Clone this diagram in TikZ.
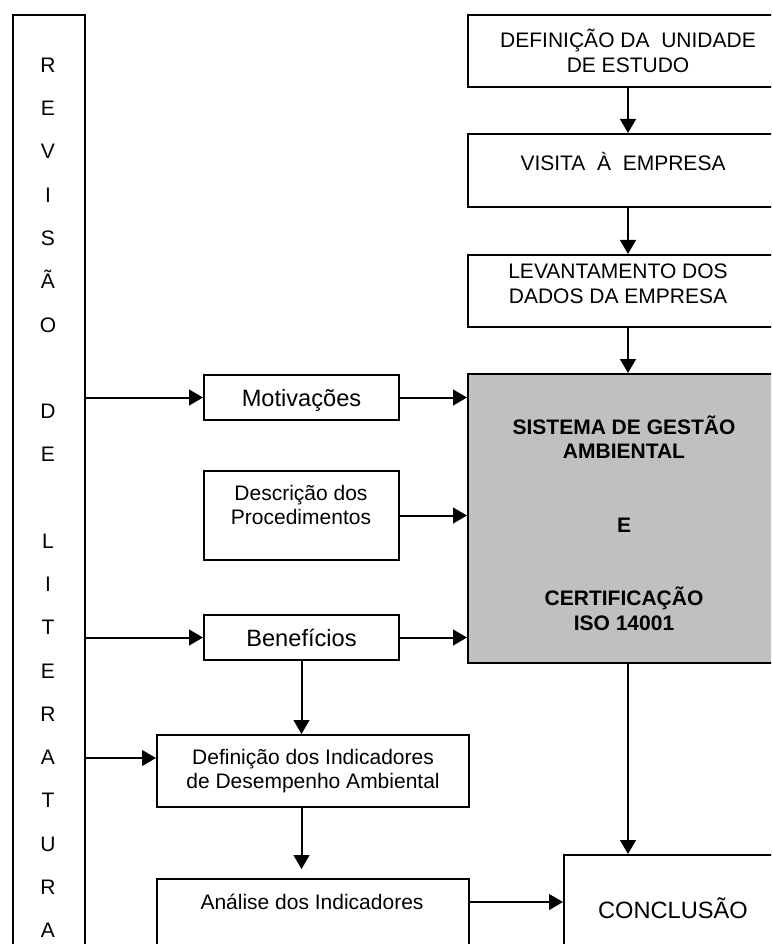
\documentclass[tikz,border=0pt]{standalone}
\usepackage{fontspec}
\setmainfont{Liberation Sans}
\usepackage{tikz}
\usetikzlibrary{arrows.meta,positioning,calc}
\definecolor{sgagray}{RGB}{192,192,192}
\newcommand{\pxl}{0.5714pt}

\begin{document}
\begin{tikzpicture}[
    x=\pxl, y=-\pxl,
    box/.style={rectangle, draw, line width=1.15pt, anchor=north west, inner sep=0pt, align=center, font=\fontsize{12}{14}\selectfont},
    txt/.style={align=center, inner sep=0pt, font=\fontsize{12}{14}\selectfont},
    big/.style={font=\fontsize{13.5}{16}\selectfont, text depth=0pt},
    letter/.style={anchor=base, inner sep=0pt, font=\fontsize{12}{14}\selectfont},
    arrow/.style={-{Triangle[length=8pt, width=9pt]}, line width=1.15pt}
]
\clip (0,0) rectangle (771,944);
\node[box, minimum width=72*\pxl, minimum height=960*\pxl] (lit) at (12,14) {};
\foreach \i/\ch in {0/R,1/E,2/V,3/I,4/S,5/Ã,6/O,8/D,9/E,11/L,12/I,13/T,14/E,15/R,16/A,17/T,18/U,19/R,20/A}
    \node[letter] (lt\i) at (48,{72.5+43.25*\i}) {\ch};

\node[box, minimum width=320*\pxl, minimum height=72*\pxl] (def) at (467,14) {DEFINIÇÃO DA~~UNIDADE\\DE ESTUDO};
\node[box, minimum width=320*\pxl, minimum height=73*\pxl] (vis) at (467,133) {};
\node[txt] (vist) at (623,161) {VISITA~~À~~EMPRESA};
\node[box, minimum width=320*\pxl, minimum height=72*\pxl] (lev) at (467,254) {};
\node[txt] (levt) at (618,284) {LEVANTAMENTO DOS\\DADOS DA EMPRESA};
\node[box, fill=sgagray, minimum width=320*\pxl, minimum height=289*\pxl] (sga) at (467,373) {};
\node[txt, font=\fontsize{12}{14}\selectfont\bfseries] (sgat) at (624,523) {SISTEMA DE GESTÃO\\AMBIENTAL\\[28pt]E\\[28pt]CERTIFICAÇÃO\\ISO 14001};

\node[box, big, minimum width=195*\pxl, minimum height=45*\pxl] (mot) at (203,374) {Motivações};
\node[box, minimum width=195*\pxl, minimum height=89*\pxl] (desc) at (203,470) {};
\node[txt] (desct) at (301,505) {Descrição dos\\Procedimentos};
\node[box, big, minimum width=195*\pxl, minimum height=45*\pxl] (ben) at (203,614) {Benefícios};
\node[box, minimum width=312*\pxl, minimum height=72*\pxl] (ind) at (156,734) {Definição dos Indicadores\\de Desempenho Ambiental};
\node[box, minimum width=312*\pxl, minimum height=90*\pxl] (ana) at (156,878) {};
\node[txt] (anat) at (312,902) {Análise dos Indicadores};
\node[box, big, minimum width=218*\pxl, minimum height=106*\pxl] (conc) at (563,854) {CONCLUSÃO};

\draw[arrow] (def) -- (vis);
\draw[arrow] (vis) -- (lev);
\draw[arrow] (lev) -- (sga);
\draw[arrow] (sga) -- (sga.south |- conc.north);
\draw[arrow] (lit.east |- mot) -- (mot);
\draw[arrow] (mot) -- (mot -| sga.west);
\draw[arrow] (desc) -- (desc -| sga.west);
\draw[arrow] (lit.east |- ben) -- (ben);
\draw[arrow] (ben) -- (ben -| sga.west);
\draw[arrow] (ben) -- (ben.south |- ind.north);
\draw[arrow] ($(lit.east |- ind.north)+(0,24)$) -- ($(ind.north west)+(0,24)$);
\draw[arrow, shorten >=5.1pt] (ben.south |- ind.south) -- (ben.south |- ana.north);
\draw[arrow] (anat -| ana.east) -- (anat -| conc.west);
\end{tikzpicture}
\end{document}
